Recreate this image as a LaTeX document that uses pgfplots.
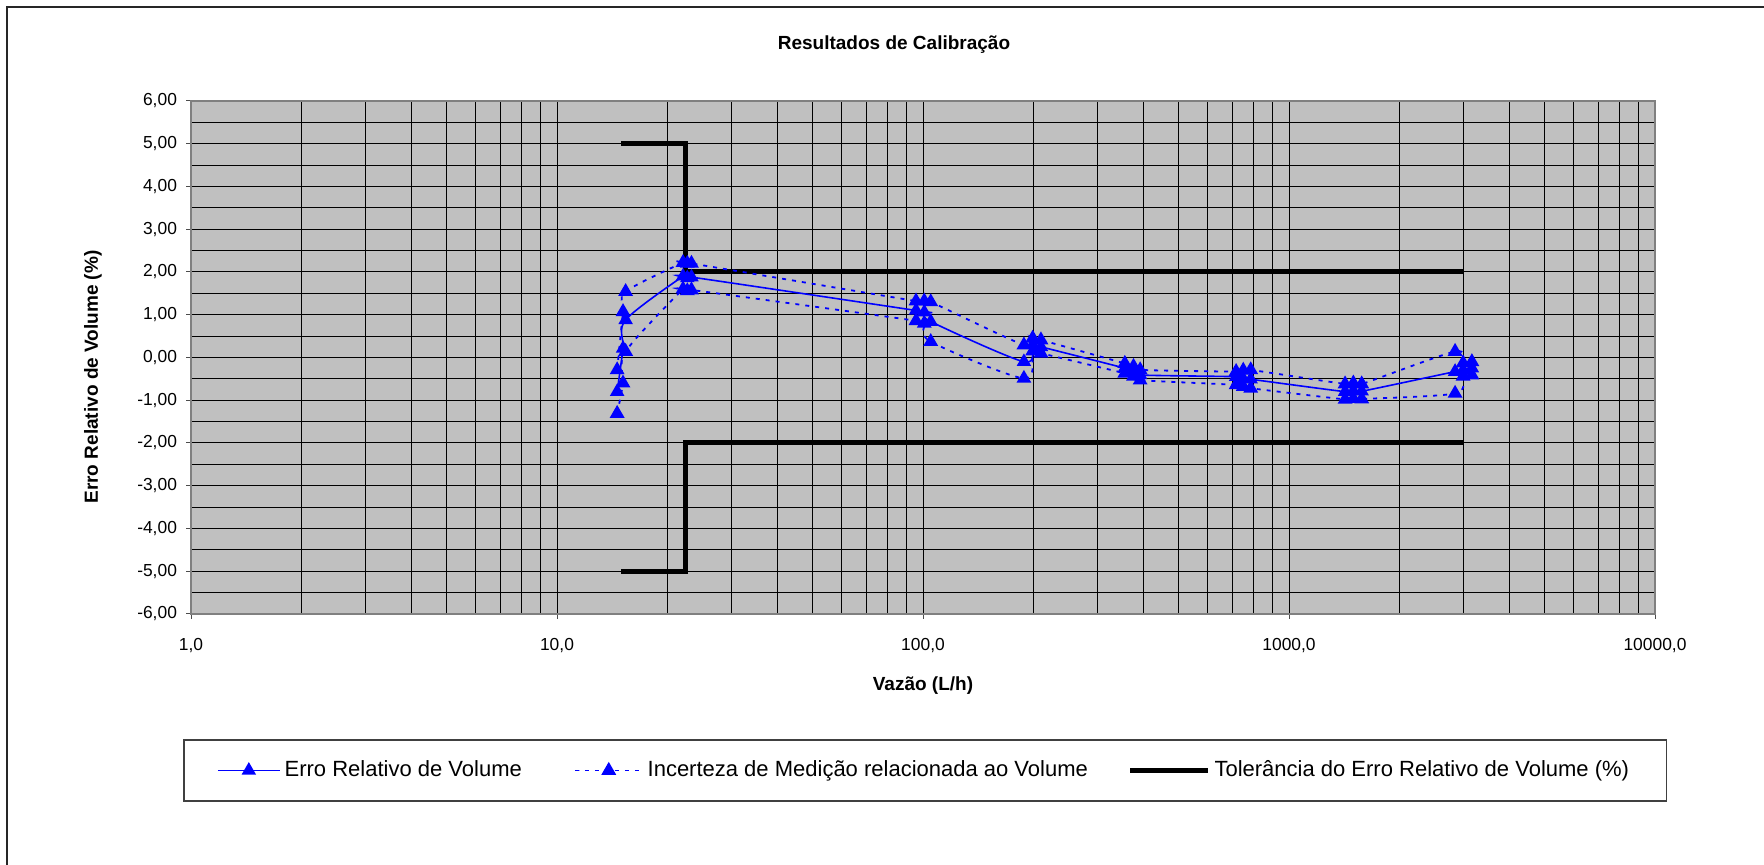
\documentclass[border=0pt]{standalone}
\usepackage{fontspec}
\setmainfont{Liberation Sans}
\usepackage{pgfplots}
\usepackage{pgfplotstable}
\pgfplotsset{compat=1.18}

\definecolor{plotbg}{HTML}{C0C0C0}
\definecolor{serieblue}{HTML}{0000FF}
\definecolor{axisgray}{HTML}{808080}

% Calibration points: flow (L/h), relative volume error (%), upper and lower uncertainty bounds (%)
\pgfplotstableread{
vazao  erro   sup    inf
14.6   -0.80  -0.29  -1.31
15.15   0.21   1.07  -0.60
15.4    0.88   1.54   0.14
22.1    1.90   2.22   1.60
22.7    1.86   2.20   1.56
23.3    1.88   2.20   1.58
95.7    1.10   1.32   0.86
100.8   1.06   1.32   0.80
105.0   0.84   1.30   0.37
188.7  -0.10   0.29  -0.49
199.4   0.30   0.45   0.15
210.0   0.25   0.41   0.10
356    -0.25  -0.14  -0.37
376    -0.33  -0.21  -0.44
392    -0.41  -0.29  -0.53
717    -0.45  -0.33  -0.64
750    -0.50  -0.30  -0.68
786    -0.51  -0.29  -0.72
1423   -0.80  -0.62  -0.98
1499   -0.78  -0.60  -0.96
1580   -0.79  -0.62  -0.97
2843   -0.33   0.14  -0.84
2990   -0.30  -0.13  -0.44
3160   -0.25  -0.10  -0.41
}\calib

% Tolerance limits of the relative volume error (%)
\pgfplotstableread{
vazao tol
15    5
22.5  5
22.5  2
3000  2
}\tolsup
\pgfplotstableread{
vazao tol
15    -5
22.5  -5
22.5  -2
3000  -2
}\tolinf

\begin{document}
\begin{tikzpicture}
\path[use as bounding box] (0pt,0pt) rectangle (882pt,432.5pt);
% chart area frame
\draw[line width=1pt, black!85] (3.65pt,-5pt) -- (3.65pt,428.85pt) -- (890pt,428.85pt);
% chart title
\node[font=\bfseries\fontsize{9.5}{11}\selectfont] at (447pt,410pt) {Resultados de Calibração};
\begin{axis}[
  at={(95.5pt,125.5pt)}, anchor=south west,
  scale only axis, width=732pt, height=256.5pt,
  xmode=log, log basis x=10,
  xmin=1, xmax=10000, ymin=-6, ymax=6,
  xtick={1,10,100,1000,10000},
  xticklabels={{1,0},{10,0},{100,0},{1000,0},{10000,0}},
  minor xtick={2,3,4,5,6,7,8,9,20,30,40,50,60,70,80,90,200,300,400,500,600,700,800,900,2000,3000,4000,5000,6000,7000,8000,9000},
  ytick={-6,-5,-4,-3,-2,-1,0,1,2,3,4,5,6},
  yticklabels={{-6,00},{-5,00},{-4,00},{-3,00},{-2,00},{-1,00},{0,00},{1,00},{2,00},{3,00},{4,00},{5,00},{6,00}},
  minor ytick={-5.5,-4.5,-3.5,-2.5,-1.5,-0.5,0.5,1.5,2.5,3.5,4.5,5.5},
  grid=both,
  major grid style={black, line width=0.5pt},
  minor grid style={black, line width=0.5pt},
  axis background/.style={fill=plotbg},
  axis line style={axisgray, line width=0.8pt},
  tick align=outside,
  xtick pos=bottom, ytick pos=left,
  major tick length=2.5pt, minor tick length=0pt,
  tick style={black!70, line width=0.5pt},
  ticklabel style={font=\fontsize{8.7}{10}\selectfont},
  xticklabel style={yshift=-6pt},
  yticklabel style={xshift=-1pt},
  xlabel={Vazão (L/h)},
  xlabel style={at={(rel axis cs:0.5,-0.1395)}, anchor=center, font=\bfseries\fontsize{9.5}{11}\selectfont},
  ylabel={Erro Relativo de Volume (\%)},
  ylabel style={at={(rel axis cs:-0.0669,0.462)}, anchor=center, font=\bfseries\fontsize{9.5}{11}\selectfont},
  legend columns=3,
  legend cell align=left,
  legend image code/.code={\draw[mark repeat=2,mark phase=2] plot coordinates {(0pt,0pt) (15.5pt,0pt) (31pt,0pt)};},
  legend style={at={(0.5014,-0.305)}, anchor=center, draw=black!75, line width=0.6pt, fill=white,
    font=\fontsize{11}{13}\selectfont, inner xsep=16.5pt, inner ysep=8.5pt,
    /tikz/column 2/.style={column sep=24pt},
    /tikz/column 4/.style={column sep=17.8pt}},
]
\addplot[black, line width=2.5pt, forget plot] table[x=vazao, y=tol]{\tolsup};
\addplot[black, line width=2.5pt, forget plot] table[x=vazao, y=tol]{\tolinf};

\addplot[serieblue, line width=0.8pt, smooth, tension=0.5,
  mark=triangle*, mark size=3.4pt, mark options={solid, fill=serieblue}]
  table[x=vazao, y=erro]{\calib};
\addlegendentry{Erro Relativo de Volume}

\addplot[serieblue, line width=0.9pt, dash pattern=on 2pt off 3pt, smooth, tension=0.5,
  mark=triangle*, mark size=3.4pt, mark options={solid, fill=serieblue},
  legend image code/.code={\draw[mark repeat=2,mark phase=2] plot coordinates {(0pt,0pt) (17pt,0pt) (34pt,0pt)};}]
  table[x=vazao, y=sup]{\calib};
\addlegendentry{Incerteza de Medição relacionada ao Volume}

\addplot[serieblue, line width=0.9pt, dash pattern=on 2pt off 3pt, smooth, tension=0.5,
  mark=triangle*, mark size=3.4pt, mark options={solid, fill=serieblue}, forget plot]
  table[x=vazao, y=inf]{\calib};

\addlegendimage{black, line width=2.5pt,
  legend image code/.code={\draw (0pt,0pt) -- (39pt,0pt);}}
\addlegendentry{Tolerância do Erro Relativo de Volume (\%)}
\end{axis}
\end{tikzpicture}
\end{document}
